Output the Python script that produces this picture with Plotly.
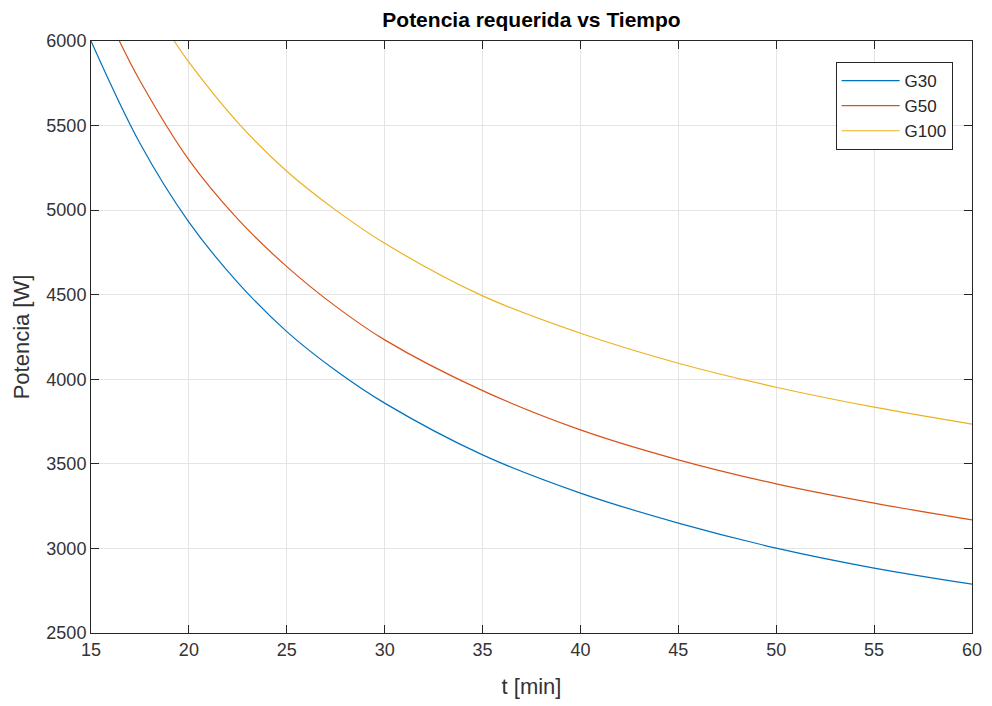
import plotly.graph_objects as go

# Data
t_g30 = [15, 17.5, 20, 22.5, 25, 27.5, 30, 35, 40, 45, 50, 55, 60]
p_g30 = [6000, 5395, 4929, 4572, 4282, 4052, 3859, 3553, 3327, 3150, 3002, 2884, 2789]

t_g50 = [16.45, 17.5, 20, 22.5, 25, 27.5, 30, 35, 40, 45, 50, 55, 60]
p_g50 = [6000, 5765, 5297, 4947, 4666, 4431, 4233, 3933, 3701, 3524, 3382, 3268, 3169]

t_g100 = [19.25, 20, 22.5, 25, 27.5, 30, 35, 40, 45, 50, 55, 60]
p_g100 = [6000, 5875, 5518, 5230, 5000, 4804, 4493, 4272, 4095, 3953, 3835, 3735]

x_ticks = [15, 20, 25, 30, 35, 40, 45, 50, 55, 60]
y_ticks = [2500, 3000, 3500, 4000, 4500, 5000, 5500, 6000]

series = [
    ("G30", t_g30, p_g30, "#0072BD"),
    ("G50", t_g50, p_g50, "#D95319"),
    ("G100", t_g100, p_g100, "#EDB120"),
]

fig = go.Figure()
for name, xs, ys, col in series:
    fig.add_trace(go.Scatter(x=xs, y=ys, name=name, mode="lines",
                             line=dict(color=col, width=1.2, shape="spline", smoothing=1.0)))

font_family = "Liberation Sans, Arial, sans-serif"
axis_common = dict(
    showline=True, linecolor="#262626", linewidth=1, mirror="ticks",
    ticks="inside", ticklen=8, tickcolor="#262626", tickwidth=1,
    showgrid=True, gridcolor="#e4e4e4", gridwidth=1, zeroline=False,
    tickfont=dict(family=font_family, size=18, color="#333333"),
)

fig.update_layout(
    width=992, height=706,
    margin=dict(l=83, r=28, t=33, b=81),
    paper_bgcolor="white", plot_bgcolor="white",
    title=dict(text="<b>Potencia requerida vs Tiempo</b>", x=0.5, xref="paper",
               y=1 - 12 / 706, yanchor="middle",
               font=dict(family=font_family, size=21, color="#000000")),
    xaxis=dict(range=[15, 60], tickvals=x_ticks,
               title=dict(text="t [min]", font=dict(family=font_family, size=22, color="#333333"), standoff=20),
               **axis_common),
    yaxis=dict(range=[2500, 6000], tickvals=y_ticks,
               title=dict(text="Potencia [W]", font=dict(family=font_family, size=22, color="#333333"), standoff=10),
               **axis_common),
    legend=dict(x=0.978, y=0.9645, xanchor="right", yanchor="top",
                bgcolor="white", bordercolor="#262626", borderwidth=1,
                font=dict(family=font_family, size=17, color="#262626"),
                tracegroupgap=0, itemwidth=58),
    showlegend=True,
)

fig.write_html("out.html")
